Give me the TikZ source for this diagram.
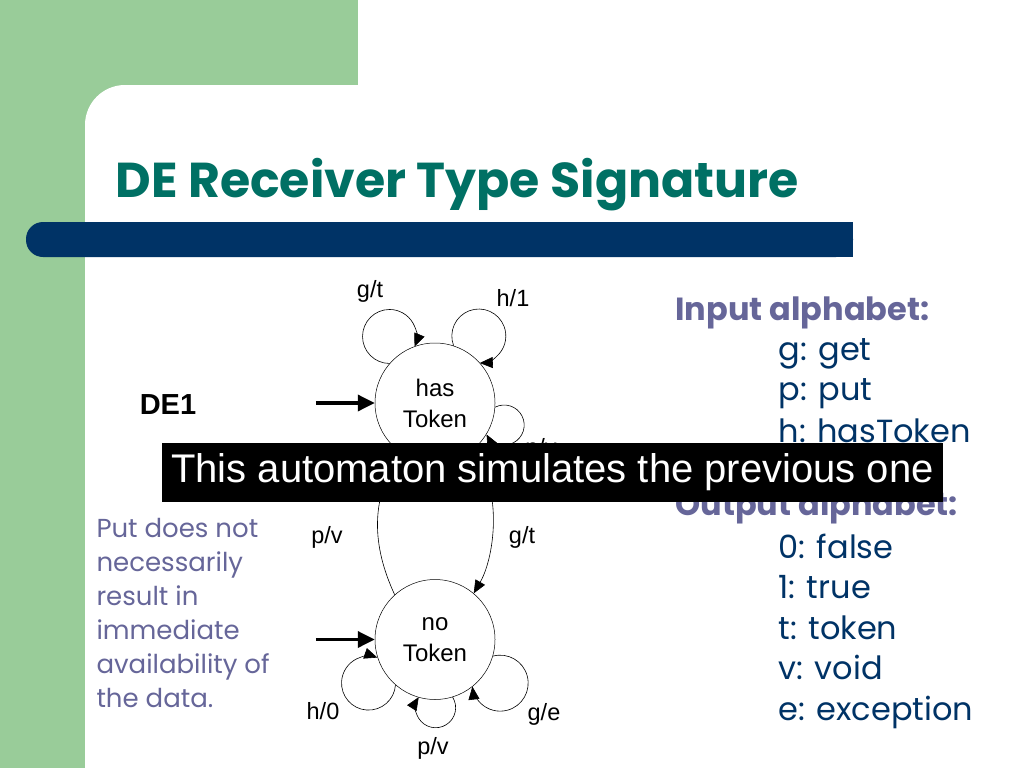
\documentclass[tikz,border=0pt]{standalone}
\usepackage{fontspec}
\setmainfont{Liberation Sans}
\newfontfamily\comicfont{Poppins}
\usetikzlibrary{arrows.meta,positioning}
\definecolor{slidegreen}{RGB}{153,204,153}
\definecolor{barblue}{RGB}{0,51,102}
\definecolor{titleteal}{RGB}{0,112,100}
\definecolor{notepurple}{RGB}{102,102,153}
\definecolor{itemblue}{RGB}{0,51,102}

\begin{document}
\begin{tikzpicture}
[x=1pt,y=1pt,
state/.style={draw=black,circle,line width=.5pt,minimum size=120pt,inner sep=0pt,align=center,font=\fontsize{24}{31}\selectfont},
lbl/.style={font=\fontsize{23.5}{28}\selectfont},
edge/.style={line width=.6pt,-{Triangle[length=13pt,width=11pt]}},
initarrow/.style={line width=3.5pt,-{Triangle[length=17pt,width=16pt]}},
item/.style={anchor=base west,text=itemblue,font=\comicfont\fontsize{32}{40}\selectfont},
head/.style={anchor=base west,text=notepurple,font=\comicfont\bfseries\fontsize{32}{40}\selectfont},
note/.style={anchor=base west,text=notepurple,font=\comicfont\fontsize{26}{34}\selectfont}]
\useasboundingbox (0,0) rectangle (1024,-768);
% slide background
\fill[slidegreen] (0,0) rectangle (358,-768);
\fill[white,rounded corners=40pt] (85,-85) rectangle (1100,-850);
\fill[barblue,rounded corners=17pt] (26,-222) rectangle (853,-257);
\fill[barblue] (400,-222) rectangle (853,-257);
\node[anchor=base west,text=titleteal,font=\comicfont\bfseries\fontsize{49}{54}\selectfont] (title) at (112,-197) {DE Receiver Type Signature};

% automaton
\node[state] (hasToken) at (435,-403) {has\\Token};
\node[state,below=116pt of hasToken] (noToken) {no\\Token};
\node[font=\bfseries\fontsize{29}{34}\selectfont] (de1) at (168,-405) {DE1};
\coordinate[left=59pt of hasToken.west] (inHas);
\coordinate[left=59pt of noToken.west] (inNo);
\draw[initarrow] (inHas) -- (hasToken.west);
\draw[initarrow] (inNo) -- (noToken.west);

\draw[edge] (hasToken.139) arc[start angle=-90,end angle=-382,radius=27pt];
\draw[edge] (hasToken.72) arc[start angle=201,end angle=-88,radius=27pt];
\draw[edge] (hasToken.-4) arc[start angle=117,end angle=-152,radius=20pt];
\draw[edge] (hasToken.-55) to[out=-40,in=60,looseness=.8] (noToken.50);
\draw[edge] (noToken.132) to[out=115,in=-120] (hasToken.235);
\draw[edge] (noToken.229) arc[start angle=-4,end angle=-289,radius=27pt];
\draw[edge] (noToken.287) arc[start angle=32,end angle=-212,radius=20pt];
\draw[edge] (noToken.-16) arc[start angle=105,end angle=-173,radius=28pt];

\node[lbl] (lgt) at (370,-291) {g/t};
\node[lbl] (lh1) at (513,-298) {h/1};
\node[lbl] (lpv) at (541,-449) {p/v};
\node[lbl] (lpv2) at (327,-537) {p/v};
\node[lbl] (lgt2) at (522,-537) {g/t};
\node[lbl] (lh0) at (323,-711) {h/0};
\node[lbl] (lpv3) at (433,-748) {p/v};
\node[lbl] (lge) at (544,-714) {g/e};

% alphabets
\node[head] (inhead) at (672,-320) {Input alphabet:};
\foreach \y/\txt in {360/g: get,400/p: put,442/h: hasToken}
  \node[item] at (775,-\y) {\txt};
\node[head] (outhead) at (672,-515) {Output alphabet:};
\foreach \y/\txt in {558/0: false,598/1: true,639/t: token,679/v: void,720/e: exception}
  \node[item] at (775,-\y) {\txt};

% note
\foreach \y/\txt in {537/Put does not,571/necessarily,605/result in,639/immediate,673/availability of,707/the data.}
  \node[note] at (93,-\y) {\txt};

% banner
\node[fill=black,text=white,minimum width=781pt,minimum height=59pt,inner sep=0pt,font=\fontsize{40}{44}\selectfont] (banner) at (552.5,-472.5) {This automaton simulates the previous one};
\end{tikzpicture}
\end{document}
